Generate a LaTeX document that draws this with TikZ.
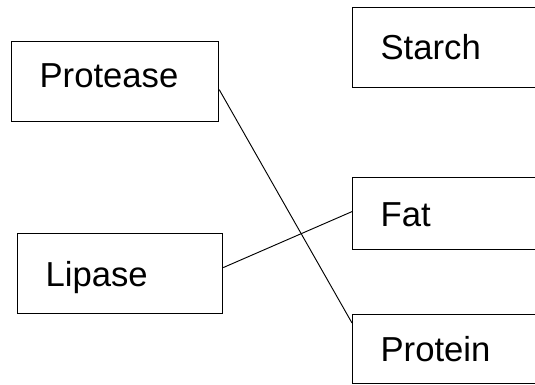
\documentclass[tikz,border=0pt]{standalone}
\usepackage{fontspec}
\setmainfont{Liberation Sans}
\begin{document}
\begin{tikzpicture}[x=0.75pt,y=-0.75pt,
% common options for the boxes:
box/.style = {draw, line width=0.9pt, anchor=north west, align=left,
            inner xsep=21pt, inner ysep=0pt, text height=18.6pt, text depth=0pt,
            font=\fontsize{26}{31}\selectfont},
% common options for the connectors:
link/.style = {line width=0.7pt}]
\useasboundingbox (0,0) rectangle (535,385);
\clip (0,0) rectangle (535,385);
\node[box,text width=113.25pt,minimum height=60pt,text depth=9pt] (protease) at (11,41) {Protease};
\node[box,text width=111.75pt,minimum height=60pt] (lipase) at (17,233) {Lipase};
\node[box,text width=145.5pt,minimum height=60pt] (starch) at (352,7) {Starch};
\node[box,text width=145.5pt,minimum height=54pt] (fat) at (352,177) {Fat};
\node[box,text width=145.5pt,minimum height=51.75pt] (protein) at (352,314) {Protein};
\draw[link] ([yshift=-6pt]protease.east) to ([yshift=-6.75pt]protein.north west);
\draw[link] ([yshift=4.5pt]lipase.east) to ([yshift=1.5pt]fat.west);
\end{tikzpicture}
\end{document}
